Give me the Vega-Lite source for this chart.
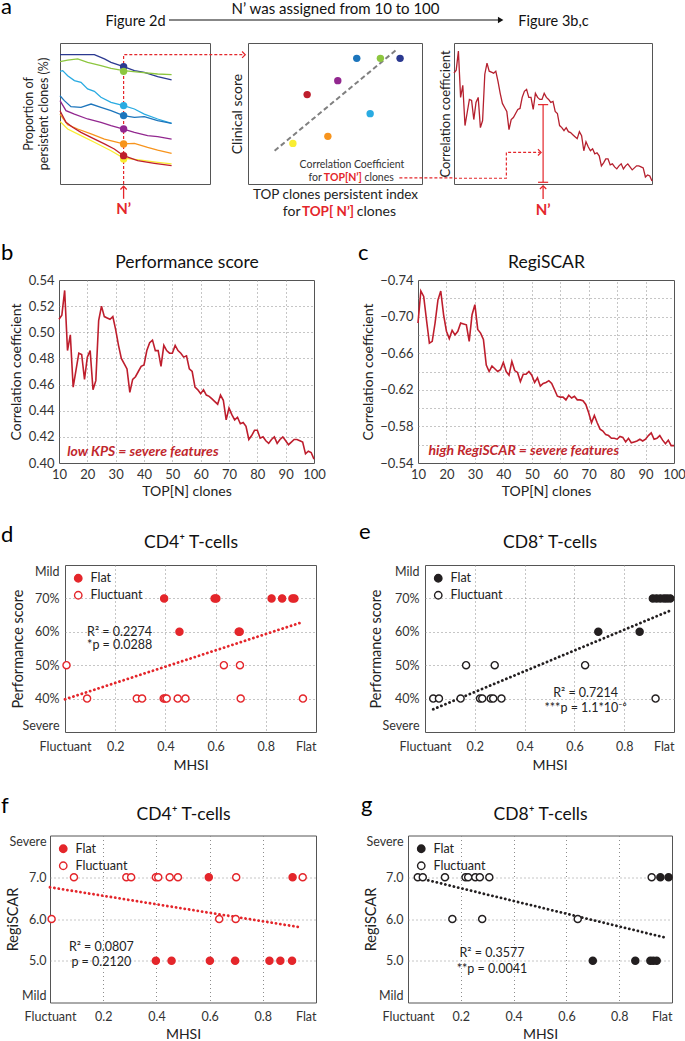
{
"$schema": "https://vega.github.io/schema/vega-lite/v6.json",
"background": "white",
"padding": {"left": 0, "top": -5, "right": 0, "bottom": 0},
"columns": 1,
"spacing": 21,
"resolve": {"scale": {"color": "independent", "fill": "independent"}, "legend": {"color": "independent", "fill": "independent"}},
"config": {
  "font": "Lato",
  "view": {"stroke": "#555555", "strokeWidth": 1},
  "axis": {"domain": false, "ticks": false, "grid": true, "gridColor": "#8c8c8c", "gridDash": [1, 3], "gridWidth": 1, "labelFont": "Lato", "labelFontSize": 12.5, "labelColor": "#333333", "labelPadding": 5, "labelOverlap": false, "labelFlush": false, "titleFont": "Lato", "titleFontSize": 14, "titleFontWeight": "normal", "titleColor": "#222222"},
  "title": {"font": "Lato", "fontWeight": "normal", "color": "#000000", "baseline": "alphabetic", "anchor": "start", "frame": "group", "fontSize": 22},
  "legend": {"labelFont": "Lato"},
  "text": {"font": "Lato"}
},
"datasets": {
  "perf": [{"n":10,"r":0.510},{"n":11,"r":0.513},{"n":12,"r":0.532},{"n":13,"r":0.486},{"n":14,"r":0.498},{"n":15,"r":0.458},{"n":16,"r":0.471},{"n":17,"r":0.484},{"n":18,"r":0.483},{"n":19,"r":0.464},{"n":20,"r":0.481},{"n":21,"r":0.486},{"n":22,"r":0.456},{"n":23,"r":0.463},{"n":24,"r":0.509},{"n":25,"r":0.520},{"n":26,"r":0.512},{"n":27,"r":0.511},{"n":28,"r":0.510},{"n":29,"r":0.512},{"n":30,"r":0.502},{"n":31,"r":0.490},{"n":32,"r":0.480},{"n":33,"r":0.476},{"n":34,"r":0.472},{"n":35,"r":0.454},{"n":36,"r":0.464},{"n":37,"r":0.466},{"n":38,"r":0.470},{"n":39,"r":0.474},{"n":40,"r":0.475},{"n":41,"r":0.486},{"n":42,"r":0.492},{"n":43,"r":0.494},{"n":44,"r":0.486},{"n":45,"r":0.486},{"n":46,"r":0.474},{"n":47,"r":0.490},{"n":48,"r":0.486},{"n":49,"r":0.484},{"n":50,"r":0.484},{"n":51,"r":0.490},{"n":52,"r":0.486},{"n":53,"r":0.484},{"n":54,"r":0.481},{"n":55,"r":0.482},{"n":56,"r":0.472},{"n":57,"r":0.470},{"n":58,"r":0.458},{"n":59,"r":0.456},{"n":60,"r":0.453},{"n":61,"r":0.456},{"n":62,"r":0.452},{"n":63,"r":0.451},{"n":64,"r":0.449},{"n":65,"r":0.447},{"n":66,"r":0.445},{"n":67,"r":0.452},{"n":68,"r":0.448},{"n":69,"r":0.433},{"n":70,"r":0.442},{"n":71,"r":0.437},{"n":72,"r":0.433},{"n":73,"r":0.435},{"n":74,"r":0.430},{"n":75,"r":0.431},{"n":76,"r":0.428},{"n":77,"r":0.418},{"n":78,"r":0.421},{"n":79,"r":0.425},{"n":80,"r":0.425},{"n":81,"r":0.419},{"n":82,"r":0.420},{"n":83,"r":0.417},{"n":84,"r":0.415},{"n":85,"r":0.418},{"n":86,"r":0.420},{"n":87,"r":0.415},{"n":88,"r":0.418},{"n":89,"r":0.420},{"n":90,"r":0.417},{"n":91,"r":0.414},{"n":92,"r":0.416},{"n":93,"r":0.418},{"n":94,"r":0.418},{"n":95,"r":0.417},{"n":96,"r":0.416},{"n":97,"r":0.407},{"n":98,"r":0.409},{"n":99,"r":0.408},{"n":100,"r":0.403}],
  "regi": [{"n":10,"r":-0.693},{"n":11,"r":-0.728},{"n":12,"r":-0.722},{"n":13,"r":-0.696},{"n":14,"r":-0.671},{"n":15,"r":-0.673},{"n":16,"r":-0.693},{"n":17,"r":-0.718},{"n":18,"r":-0.728},{"n":19,"r":-0.702},{"n":20,"r":-0.684},{"n":21,"r":-0.676},{"n":22,"r":-0.685},{"n":23,"r":-0.680},{"n":24,"r":-0.684},{"n":25,"r":-0.693},{"n":26,"r":-0.692},{"n":27,"r":-0.691},{"n":28,"r":-0.673},{"n":29,"r":-0.702},{"n":30,"r":-0.713},{"n":31,"r":-0.686},{"n":32,"r":-0.682},{"n":33,"r":-0.675},{"n":34,"r":-0.647},{"n":35,"r":-0.640},{"n":36,"r":-0.646},{"n":37,"r":-0.643},{"n":38,"r":-0.640},{"n":39,"r":-0.642},{"n":40,"r":-0.650},{"n":41,"r":-0.640},{"n":42,"r":-0.636},{"n":43,"r":-0.651},{"n":44,"r":-0.641},{"n":45,"r":-0.639},{"n":46,"r":-0.629},{"n":47,"r":-0.637},{"n":48,"r":-0.637},{"n":49,"r":-0.640},{"n":50,"r":-0.636},{"n":51,"r":-0.628},{"n":52,"r":-0.633},{"n":53,"r":-0.624},{"n":54,"r":-0.627},{"n":55,"r":-0.628},{"n":56,"r":-0.630},{"n":57,"r":-0.627},{"n":58,"r":-0.620},{"n":59,"r":-0.613},{"n":60,"r":-0.612},{"n":61,"r":-0.612},{"n":62,"r":-0.609},{"n":63,"r":-0.614},{"n":64,"r":-0.611},{"n":65,"r":-0.613},{"n":66,"r":-0.609},{"n":67,"r":-0.609},{"n":68,"r":-0.608},{"n":69,"r":-0.604},{"n":70,"r":-0.595},{"n":71,"r":-0.584},{"n":72,"r":-0.592},{"n":73,"r":-0.584},{"n":74,"r":-0.577},{"n":75,"r":-0.575},{"n":76,"r":-0.571},{"n":77,"r":-0.570},{"n":78,"r":-0.567},{"n":79,"r":-0.567},{"n":80,"r":-0.566},{"n":81,"r":-0.569},{"n":82,"r":-0.568},{"n":83,"r":-0.563},{"n":84,"r":-0.567},{"n":85,"r":-0.562},{"n":86,"r":-0.563},{"n":87,"r":-0.564},{"n":88,"r":-0.566},{"n":89,"r":-0.564},{"n":90,"r":-0.566},{"n":91,"r":-0.570},{"n":92,"r":-0.573},{"n":93,"r":-0.566},{"n":94,"r":-0.567},{"n":95,"r":-0.570},{"n":96,"r":-0.565},{"n":97,"r":-0.561},{"n":98,"r":-0.565},{"n":99,"r":-0.559},{"n":100,"r":-0.559}],
  "aLines": [
    {"s":"A","x":0,"y":91.7},{"s":"A","x":22.9,"y":91.7},{"s":"A","x":29.6,"y":88.7},{"s":"A","x":34,"y":86.3},{"s":"A","x":42.4,"y":83.2},{"s":"A","x":49.6,"y":80.4},{"s":"A","x":56.2,"y":79.2},{"s":"A","x":65.1,"y":76.1},{"s":"A","x":74.4,"y":73.8},
    {"s":"B","x":0,"y":86.8},{"s":"B","x":5.1,"y":87.9},{"s":"B","x":11.8,"y":88.7},{"s":"B","x":18.4,"y":86.3},{"s":"B","x":27.3,"y":83.9},{"s":"B","x":34,"y":82},{"s":"B","x":42.4,"y":80.4},{"s":"B","x":54,"y":79.2},{"s":"B","x":65.1,"y":78},{"s":"B","x":74.4,"y":77.5},
    {"s":"C","x":0,"y":79.9},{"s":"C","x":1.8,"y":80.4},{"s":"C","x":5.1,"y":76.8},{"s":"C","x":9.6,"y":73.3},{"s":"C","x":14,"y":72.1},{"s":"C","x":18.4,"y":67.4},{"s":"C","x":22.9,"y":65.7},{"s":"C","x":27.3,"y":61.5},{"s":"C","x":34,"y":57.9},{"s":"C","x":42.4,"y":55.6},{"s":"C","x":49.6,"y":53.2},{"s":"C","x":56.2,"y":49.6},{"s":"C","x":65.1,"y":46.1},{"s":"C","x":74.4,"y":43},
    {"s":"D","x":0,"y":62.6},{"s":"D","x":2.9,"y":59.1},{"s":"D","x":7.3,"y":54.8},{"s":"D","x":14,"y":54.4},{"s":"D","x":20.7,"y":56.7},{"s":"D","x":27.3,"y":54.4},{"s":"D","x":34,"y":52},{"s":"D","x":42.4,"y":48.5},{"s":"D","x":49.6,"y":47.3},{"s":"D","x":56.2,"y":47.8},{"s":"D","x":65.1,"y":44.9},{"s":"D","x":74.4,"y":43},
    {"s":"E","x":0,"y":59.1},{"s":"E","x":4,"y":52},{"s":"E","x":9.6,"y":49.6},{"s":"E","x":18.4,"y":46.1},{"s":"E","x":27.3,"y":43.7},{"s":"E","x":34,"y":41.4},{"s":"E","x":42.4,"y":39},{"s":"E","x":49.6,"y":36.6},{"s":"E","x":58.4,"y":34.3},{"s":"E","x":65.1,"y":33.6},{"s":"E","x":74.4,"y":31.9},
    {"s":"F","x":0,"y":49.6},{"s":"F","x":5.1,"y":42.1},{"s":"F","x":11.8,"y":39},{"s":"F","x":20.7,"y":35.5},{"s":"F","x":29.6,"y":31.9},{"s":"F","x":42.4,"y":28.4},{"s":"F","x":49.6,"y":28.8},{"s":"F","x":58.4,"y":26},{"s":"F","x":65.1,"y":24.1},{"s":"F","x":74.4,"y":21.7},
    {"s":"H","x":0,"y":44.4},{"s":"H","x":5.1,"y":39},{"s":"H","x":14,"y":34.3},{"s":"H","x":22.9,"y":29.6},{"s":"H","x":34,"y":23.6},{"s":"H","x":42.4,"y":18.4},{"s":"H","x":54,"y":17},{"s":"H","x":65.1,"y":15.4},{"s":"H","x":74.4,"y":14.2},
    {"s":"G","x":0,"y":52},{"s":"G","x":4,"y":43.7},{"s":"G","x":8.4,"y":40.2},{"s":"G","x":14,"y":36.6},{"s":"G","x":20.7,"y":33.1},{"s":"G","x":29.6,"y":28.4},{"s":"G","x":36.2,"y":24.8},{"s":"G","x":42.4,"y":20.1},{"s":"G","x":51.8,"y":16.5},{"s":"G","x":62.9,"y":14.7},{"s":"G","x":74.4,"y":13}
  ],
  "aDots": [{"s":"A","x":42.4,"y":83.2},{"s":"B","x":42.4,"y":79.9},{"s":"C","x":42.4,"y":55.6},{"s":"D","x":42.4,"y":48.5},{"s":"E","x":42.4,"y":39},{"s":"F","x":42.4,"y":28.4},{"s":"H","x":42.4,"y":17.7},{"s":"G","x":42.4,"y":20.1}],
  "aMid": [{"s":"A","x":0.874,"y":0.891},{"s":"B","x":0.761,"y":0.891},{"s":"C","x":0.702,"y":0.499},{"s":"D","x":0.625,"y":0.891},{"s":"E","x":0.516,"y":0.733},{"s":"F","x":0.459,"y":0.338},{"s":"G","x":0.340,"y":0.634},{"s":"H","x":0.258,"y":0.288}],
  "d_pts": [{"mhsi":0.395,"score":70,"type":"Flat"},{"mhsi":0.596,"score":70,"type":"Flat"},{"mhsi":0.603,"score":70,"type":"Flat"},{"mhsi":0.823,"score":70,"type":"Flat"},{"mhsi":0.865,"score":70,"type":"Flat"},{"mhsi":0.906,"score":70,"type":"Flat"},{"mhsi":0.914,"score":70,"type":"Flat"},{"mhsi":0.456,"score":60,"type":"Flat"},{"mhsi":0.692,"score":60,"type":"Flat"},{"mhsi":0.696,"score":60,"type":"Flat"},
    {"mhsi":0.006,"score":50,"type":"Fluctuant"},{"mhsi":0.633,"score":50,"type":"Fluctuant"},{"mhsi":0.697,"score":50,"type":"Fluctuant"},{"mhsi":0.088,"score":40,"type":"Fluctuant"},{"mhsi":0.286,"score":40,"type":"Fluctuant"},{"mhsi":0.307,"score":40,"type":"Fluctuant"},{"mhsi":0.393,"score":40,"type":"Fluctuant"},{"mhsi":0.399,"score":40,"type":"Fluctuant"},{"mhsi":0.405,"score":40,"type":"Fluctuant"},{"mhsi":0.449,"score":40,"type":"Fluctuant"},{"mhsi":0.48,"score":40,"type":"Fluctuant"},{"mhsi":0.7,"score":40,"type":"Fluctuant"},{"mhsi":0.948,"score":40,"type":"Fluctuant"}],
  "d_fit": [{"mhsi":0,"score":39.8},{"mhsi":0.946,"score":62.9}],
  "d_txt": [{"mhsi":0.088,"score":60,"label":"R² = 0.2274"},{"mhsi":0.088,"score":55.9,"label":"*p = 0.0288"}],
  "e_pts": [{"mhsi":0.915,"score":70,"type":"Flat"},{"mhsi":0.93,"score":70,"type":"Flat"},{"mhsi":0.945,"score":70,"type":"Flat"},{"mhsi":0.96,"score":70,"type":"Flat"},{"mhsi":0.972,"score":70,"type":"Flat"},{"mhsi":0.985,"score":70,"type":"Flat"},{"mhsi":0.696,"score":60,"type":"Flat"},{"mhsi":0.862,"score":60,"type":"Flat"},
    {"mhsi":0.165,"score":50,"type":"Fluctuant"},{"mhsi":0.28,"score":50,"type":"Fluctuant"},{"mhsi":0.643,"score":50,"type":"Fluctuant"},{"mhsi":0.033,"score":40,"type":"Fluctuant"},{"mhsi":0.056,"score":40,"type":"Fluctuant"},{"mhsi":0.143,"score":40,"type":"Fluctuant"},{"mhsi":0.221,"score":40,"type":"Fluctuant"},{"mhsi":0.23,"score":40,"type":"Fluctuant"},{"mhsi":0.264,"score":40,"type":"Fluctuant"},{"mhsi":0.274,"score":40,"type":"Fluctuant"},{"mhsi":0.307,"score":40,"type":"Fluctuant"},{"mhsi":0.926,"score":40,"type":"Fluctuant"}],
  "e_fit": [{"mhsi":0.033,"score":36.8},{"mhsi":0.98,"score":66.2}],
  "e_txt": [{"mhsi":0.645,"score":41.6,"label":"R² = 0.7214"},{"mhsi":0.645,"score":37.1,"label":"***p = 1.1*10⁻⁶"}],
  "f_pts": [{"mhsi":0.597,"regi":7,"type":"Flat"},{"mhsi":0.912,"regi":7,"type":"Flat"},{"mhsi":0.398,"regi":5,"type":"Flat"},{"mhsi":0.457,"regi":5,"type":"Flat"},{"mhsi":0.601,"regi":5,"type":"Flat"},{"mhsi":0.696,"regi":5,"type":"Flat"},{"mhsi":0.825,"regi":5,"type":"Flat"},{"mhsi":0.866,"regi":5,"type":"Flat"},{"mhsi":0.91,"regi":5,"type":"Flat"},
    {"mhsi":0.09,"regi":7,"type":"Fluctuant"},{"mhsi":0.287,"regi":7,"type":"Fluctuant"},{"mhsi":0.305,"regi":7,"type":"Fluctuant"},{"mhsi":0.398,"regi":7,"type":"Fluctuant"},{"mhsi":0.407,"regi":7,"type":"Fluctuant"},{"mhsi":0.45,"regi":7,"type":"Fluctuant"},{"mhsi":0.481,"regi":7,"type":"Fluctuant"},{"mhsi":0.7,"regi":7,"type":"Fluctuant"},{"mhsi":0.95,"regi":7,"type":"Fluctuant"},{"mhsi":0.006,"regi":6,"type":"Fluctuant"},{"mhsi":0.636,"regi":6,"type":"Fluctuant"},{"mhsi":0.698,"regi":6,"type":"Fluctuant"}],
  "f_fit": [{"mhsi":0,"regi":6.76},{"mhsi":0.943,"regi":5.8}],
  "f_txt": [{"mhsi":0.193,"regi":5.34,"label":"R² = 0.0807"},{"mhsi":0.193,"regi":4.96,"label":"p = 0.2120"}],
  "g_pts": [{"mhsi":0.956,"regi":7,"type":"Flat"},{"mhsi":0.987,"regi":7,"type":"Flat"},{"mhsi":0.70,"regi":5,"type":"Flat"},{"mhsi":0.861,"regi":5,"type":"Flat"},{"mhsi":0.918,"regi":5,"type":"Flat"},{"mhsi":0.929,"regi":5,"type":"Flat"},{"mhsi":0.942,"regi":5,"type":"Flat"},
    {"mhsi":0.037,"regi":7,"type":"Fluctuant"},{"mhsi":0.056,"regi":7,"type":"Fluctuant"},{"mhsi":0.14,"regi":7,"type":"Fluctuant"},{"mhsi":0.218,"regi":7,"type":"Fluctuant"},{"mhsi":0.228,"regi":7,"type":"Fluctuant"},{"mhsi":0.255,"regi":7,"type":"Fluctuant"},{"mhsi":0.272,"regi":7,"type":"Fluctuant"},{"mhsi":0.308,"regi":7,"type":"Fluctuant"},{"mhsi":0.923,"regi":7,"type":"Fluctuant"},{"mhsi":0.168,"regi":6,"type":"Fluctuant"},{"mhsi":0.281,"regi":6,"type":"Fluctuant"},{"mhsi":0.643,"regi":6,"type":"Fluctuant"}],
  "g_fit": [{"mhsi":0.028,"regi":7.0},{"mhsi":0.971,"regi":5.56}],
  "g_txt": [{"mhsi":0.318,"regi":5.18,"label":"R² = 0.3577"},{"mhsi":0.318,"regi":4.8,"label":"**p = 0.0041"}]
},
"concat": [
 {"concat": [
  {"hconcat": [
    {"width": 10, "height": 10, "data": {"values": []}, "mark": "point", "view": {"stroke": null}},
    {"width": 150, "height": 141,
     "title": {"text": "a", "offset": -5.5, "dx": -59},
     "resolve": {"axis": {"x": "independent"}},
     "layer": [
      {"data": {"name": "aLines"}, "mark": {"type": "line", "strokeWidth": 1.3},
       "encoding": {"x": {"field": "x", "type": "quantitative", "scale": {"domain": [0, 100], "nice": false, "zero": false}, "axis": null},
         "y": {"field": "y", "type": "quantitative", "scale": {"domain": [0, 100], "nice": false, "zero": false}, "axis": {"title": ["Proportion of", "persistent clones (%)"], "labels": false, "grid": false, "titleFontSize": 12.5, "titlePadding": 10, "titleLineHeight": 15}},
         "color": {"field": "s", "type": "nominal", "scale": {"domain": ["A","B","C","D","E","F","H","G"], "range": ["#2b3990","#8dc63f","#29abe2","#1c75bc","#92278f","#f7941d","#f9ed32","#be1e2d"]}, "legend": null}}},
      {"data": {"values": [{"x": 42.4, "y": 0, "k": 1}, {"x": 42.4, "y": 91.7, "k": 2}, {"x": 122.5, "y": 91.7, "k": 3}]},
       "mark": {"type": "line", "color": "#e4262b", "strokeWidth": 1.2, "strokeDash": [3, 2]},
       "encoding": {"x": {"field": "x", "type": "quantitative", "axis": {"orient": "top", "title": "Figure 2d", "labels": false, "grid": false, "titleFontSize": 14.5, "titlePadding": 18, "titleBaseline": "alphabetic", "titleColor": "#111111"}}, "y": {"field": "y", "type": "quantitative"}, "order": {"field": "k", "type": "quantitative"}}},
      {"data": {"values": [{"x": 123.5, "y": 91.7}]},
       "mark": {"type": "point", "shape": "M-1,-1L0,0L-1,1", "filled": false, "color": "#e4262b", "strokeWidth": 1.2, "size": 40, "opacity": 1},
       "encoding": {"x": {"field": "x", "type": "quantitative", "axis": null}, "y": {"field": "y", "type": "quantitative"}}},
      {"data": {"name": "aDots"}, "mark": {"type": "point", "filled": true, "size": 55, "opacity": 1},
       "encoding": {"x": {"field": "x", "type": "quantitative", "axis": null}, "y": {"field": "y", "type": "quantitative"}, "color": {"field": "s", "type": "nominal"}}},
      {"data": {"values": [{"x": 42.4, "y": -1.6, "y2": -10.5}]}, "mark": {"type": "rule", "color": "#e4262b", "strokeWidth": 1.3},
       "encoding": {"x": {"field": "x", "type": "quantitative", "axis": null}, "y": {"field": "y", "type": "quantitative"}, "y2": {"field": "y2"}}},
      {"data": {"values": [{"x": 42.4, "y": -1.6}]},
       "mark": {"type": "point", "shape": "M-1,1L0,0L1,1", "filled": false, "color": "#e4262b", "strokeWidth": 1.3, "size": 40, "opacity": 1},
       "encoding": {"x": {"field": "x", "type": "quantitative", "axis": null}, "y": {"field": "y", "type": "quantitative"}}},
      {"data": {"values": [{"x": 42.4, "y": -18, "label": "N’"}]},
       "mark": {"type": "text", "fontSize": 15, "fontWeight": "bold", "color": "#e4262b", "align": "center", "baseline": "middle"},
       "encoding": {"x": {"field": "x", "type": "quantitative", "axis": null}, "y": {"field": "y", "type": "quantitative"}, "text": {"field": "label"}}}
     ]},
    {"width": 38, "height": 10, "data": {"values": []}, "mark": "point", "view": {"stroke": null}},
    {"width": 174, "height": 141,
     "resolve": {"axis": {"x": "independent"}},
     "layer": [
      {"data": {"values": [{"x": -0.454, "x2": 1.44, "y": 1.163}]}, "mark": {"type": "rule", "color": "#111111", "strokeWidth": 1.2},
       "encoding": {"x": {"field": "x", "type": "quantitative", "scale": {"domain": [0, 1], "nice": false, "zero": false}, "axis": {"title": "TOP clones persistent index", "labels": false, "grid": false, "titleFontSize": 13.5, "titlePadding": 3}},
         "x2": {"field": "x2"},
         "y": {"field": "y", "type": "quantitative", "scale": {"domain": [0, 1], "nice": false, "zero": false}, "axis": {"title": "Clinical score", "labels": false, "grid": false, "titleFontSize": 14, "titlePadding": 4}}}},
      {"data": {"values": [{"x": 1.452, "y": 1.163}]}, "mark": {"type": "point", "shape": "triangle-right", "filled": true, "color": "#111111", "size": 40, "opacity": 1},
       "encoding": {"x": {"field": "x", "type": "quantitative", "axis": {"orient": "top", "title": "N’ was assigned from 10 to 100", "labels": false, "grid": false, "titleFontSize": 15, "titlePadding": 29.5, "titleBaseline": "alphabetic", "titleColor": "#111111"}}, "y": {"field": "y", "type": "quantitative"}}},
      {"data": {"values": [{"x": 0.153, "y": 0.236}, {"x": 0.851, "y": 0.95}]}, "mark": {"type": "line", "color": "#808080", "strokeWidth": 2, "strokeDash": [5, 3]},
       "encoding": {"x": {"field": "x", "type": "quantitative", "axis": null}, "y": {"field": "y", "type": "quantitative"}}},
      {"data": {"name": "aMid"}, "mark": {"type": "point", "filled": true, "size": 55, "opacity": 1},
       "encoding": {"x": {"field": "x", "type": "quantitative", "axis": null}, "y": {"field": "y", "type": "quantitative"},
         "color": {"field": "s", "type": "nominal", "scale": {"domain": ["A","B","C","D","E","F","H","G"], "range": ["#2b3990","#8dc63f","#29abe2","#1c75bc","#92278f","#f7941d","#f9ed32","#be1e2d"]}, "legend": null}}},
      {"data": {"values": [{"x": 0.597, "y": 0.137, "label": "Correlation Coefficient"}]}, "mark": {"type": "text", "fontSize": 10.5, "color": "#333333", "align": "center", "baseline": "middle"},
       "encoding": {"x": {"field": "x", "type": "quantitative", "axis": null}, "y": {"field": "y", "type": "quantitative"}, "text": {"field": "label"}}},
      {"data": {"values": [{"x": 0.348, "y": 0.043, "label": "for"}, {"x": 0.669, "y": 0.043, "label": "clones"}]}, "mark": {"type": "text", "fontSize": 10.5, "color": "#333333", "align": "left", "baseline": "middle"},
       "encoding": {"x": {"field": "x", "type": "quantitative", "axis": null}, "y": {"field": "y", "type": "quantitative"}, "text": {"field": "label"}}},
      {"data": {"values": [{"x": 0.436, "y": 0.043, "label": "TOP[N’]"}]}, "mark": {"type": "text", "fontSize": 10.5, "fontWeight": "bold", "color": "#e4262b", "align": "left", "baseline": "middle"},
       "encoding": {"x": {"field": "x", "type": "quantitative", "axis": null}, "y": {"field": "y", "type": "quantitative"}, "text": {"field": "label"}}},
      {"data": {"values": [{"x": 0.87, "y": 0.043}, {"x": 1.184, "y": 0.043}]}, "mark": {"type": "line", "color": "#e4262b", "strokeWidth": 1.2, "strokeDash": [3, 2]},
       "encoding": {"x": {"field": "x", "type": "quantitative", "axis": null}, "y": {"field": "y", "type": "quantitative"}}},
      {"data": {"values": [{"x": 0.2, "y": -0.196, "label": "for"}, {"x": 0.625, "y": -0.196, "label": "clones"}]}, "mark": {"type": "text", "fontSize": 14, "color": "#222222", "align": "left", "baseline": "middle"},
       "encoding": {"x": {"field": "x", "type": "quantitative", "axis": null}, "y": {"field": "y", "type": "quantitative"}, "text": {"field": "label"}}},
      {"data": {"values": [{"x": 0.31, "y": -0.196, "label": "TOP[ N’]"}]}, "mark": {"type": "text", "fontSize": 13.5, "fontWeight": "bold", "color": "#e4262b", "align": "left", "baseline": "middle"},
       "encoding": {"x": {"field": "x", "type": "quantitative", "axis": null}, "y": {"field": "y", "type": "quantitative"}, "text": {"field": "label"}}}
     ]},
    {"width": 32, "height": 10, "data": {"values": []}, "mark": "point", "view": {"stroke": null}},
    {"width": 198, "height": 141,
     "resolve": {"axis": {"x": "independent"}},
     "layer": [
      {"data": {"name": "perf"}, "mark": {"type": "line", "color": "#b5202e", "strokeWidth": 1.3},
       "encoding": {"x": {"field": "n", "type": "quantitative", "scale": {"domain": [10, 100], "nice": false, "zero": false}, "axis": null},
         "y": {"field": "r", "type": "quantitative", "scale": {"domain": [0.4, 0.54], "nice": false, "zero": false}, "axis": {"title": "Correlation coefficient", "labels": false, "grid": false, "titleFontSize": 13, "titlePadding": 2}}}},
      {"data": {"values": [{"n": 10, "r": 0.4057, "k": 1}, {"n": 33.8, "r": 0.4057, "k": 2}, {"n": 33.8, "r": 0.4314, "k": 3}, {"n": 49.0, "r": 0.4314, "k": 4}]},
       "mark": {"type": "line", "color": "#e4262b", "strokeWidth": 1.2, "strokeDash": [3, 2]},
       "encoding": {"x": {"field": "n", "type": "quantitative", "axis": {"orient": "top", "title": "Figure 3b,c", "labels": false, "grid": false, "titleFontSize": 14.5, "titlePadding": 18, "titleBaseline": "alphabetic", "titleColor": "#111111"}}, "y": {"field": "r", "type": "quantitative"}, "order": {"field": "k", "type": "quantitative"}}},
      {"data": {"values": [{"n": 49.6, "r": 0.4314}]},
       "mark": {"type": "point", "shape": "M-1,-1L0,0L-1,1", "filled": false, "color": "#e4262b", "strokeWidth": 1.2, "size": 40, "opacity": 1},
       "encoding": {"x": {"field": "n", "type": "quantitative", "axis": null}, "y": {"field": "r", "type": "quantitative"}}},
      {"data": {"values": [{"n": 50.5, "r": 0.4017, "r2": 0.4788}]}, "mark": {"type": "rule", "color": "#e4262b", "strokeWidth": 1.2},
       "encoding": {"x": {"field": "n", "type": "quantitative", "axis": null}, "y": {"field": "r", "type": "quantitative"}, "y2": {"field": "r2"}}},
      {"data": {"values": [{"n": 48.2, "n2": 52.8, "r": 0.4017}, {"n": 48.2, "n2": 52.8, "r": 0.4788}]}, "mark": {"type": "rule", "color": "#e4262b", "strokeWidth": 1.2},
       "encoding": {"x": {"field": "n", "type": "quantitative", "axis": null}, "x2": {"field": "n2"}, "y": {"field": "r", "type": "quantitative"}}},
      {"data": {"values": [{"n": 50.5, "r": 0.3982, "r2": 0.3852}]}, "mark": {"type": "rule", "color": "#e4262b", "strokeWidth": 1.3},
       "encoding": {"x": {"field": "n", "type": "quantitative", "axis": null}, "y": {"field": "r", "type": "quantitative"}, "y2": {"field": "r2"}}},
      {"data": {"values": [{"n": 50.5, "r": 0.3982}]},
       "mark": {"type": "point", "shape": "M-1,1L0,0L1,1", "filled": false, "color": "#e4262b", "strokeWidth": 1.3, "size": 40, "opacity": 1},
       "encoding": {"x": {"field": "n", "type": "quantitative", "axis": null}, "y": {"field": "r", "type": "quantitative"}}},
      {"data": {"values": [{"n": 50.5, "r": 0.3746, "label": "N’"}]},
       "mark": {"type": "text", "fontSize": 15, "fontWeight": "bold", "color": "#e4262b", "align": "center", "baseline": "middle"},
       "encoding": {"x": {"field": "n", "type": "quantitative", "axis": null}, "y": {"field": "r", "type": "quantitative"}, "text": {"field": "label"}}}
     ]}
   ],
   "spacing": 0, "bounds": "flush",
   "resolve": {"scale": {"color": "independent", "fill": "independent"}, "legend": {"color": "independent", "fill": "independent"}}},
  {"hconcat": [
    {"width": 9, "height": 10, "data": {"values": []}, "mark": "point", "view": {"stroke": null}},
    {"width": 255, "height": 183,
     "title": {"text": "b", "offset": -11.3, "dx": -58},
     "resolve": {"axis": {"x": "independent"}},
     "layer": [
      {"data": {"name": "perf"}, "mark": {"type": "line", "color": "#be1e2d", "strokeWidth": 1.6},
       "encoding": {"x": {"field": "n", "type": "quantitative", "scale": {"domain": [10, 100], "nice": false, "zero": false},
           "axis": {"values": [10,20,30,40,50,60,70,80,90,100], "tickCount": 30, "title": "TOP[N] clones", "labelFontSize": 13, "labelPadding": 5, "titlePadding": 3, "gridOpacity": {"condition": {"test": "datum.value == 10 || datum.value == 100", "value": 0}, "value": 1}}},
         "y": {"field": "r", "type": "quantitative", "scale": {"domain": [0.4, 0.54], "nice": false, "zero": false},
           "axis": {"values": [0.4,0.42,0.44,0.46,0.48,0.5,0.52,0.54], "tickCount": 30, "format": ".2f", "title": "Correlation coefficient", "labelFontSize": 13, "labelPadding": 5, "titlePadding": 5, "gridOpacity": {"condition": {"test": "datum.value < 0.405 || datum.value > 0.535", "value": 0}, "value": 1}}}}},
      {"data": {"values": [{"n": 12.9, "r": 0.4084, "label": "low KPS = severe features"}]},
       "mark": {"type": "text", "align": "left", "baseline": "middle", "fontSize": 14, "fontWeight": "bold", "fontStyle": "italic", "color": "#c1272d"},
       "encoding": {"x": {"field": "n", "type": "quantitative", "axis": {"orient": "top", "title": "Performance score", "labels": false, "grid": false, "titleFontSize": 17.5, "titlePadding": 12.5, "titleBaseline": "alphabetic", "titleColor": "#111111"}}, "y": {"field": "r", "type": "quantitative"}, "text": {"field": "label"}}}
     ]},
    {"width": 104, "height": 10, "data": {"values": []}, "mark": "point", "view": {"stroke": null}},
    {"width": 256, "height": 183,
     "title": {"text": "c", "offset": -11.3, "dx": -60},
     "resolve": {"axis": {"x": "independent"}},
     "layer": [
      {"data": {"name": "regi"}, "mark": {"type": "line", "color": "#be1e2d", "strokeWidth": 1.6},
       "encoding": {"x": {"field": "n", "type": "quantitative", "scale": {"domain": [10, 100], "nice": false, "zero": false},
           "axis": {"values": [10,20,30,40,50,60,70,80,90,100], "tickCount": 30, "title": "TOP[N] clones", "labelFontSize": 13, "labelPadding": 5, "titlePadding": 3, "gridOpacity": {"condition": {"test": "datum.value == 10 || datum.value == 100", "value": 0}, "value": 1}}},
         "y": {"field": "r", "type": "quantitative", "scale": {"domain": [-0.74, -0.54], "reverse": true, "nice": false, "zero": false},
           "axis": {"values": [-0.74,-0.72,-0.7,-0.68,-0.66,-0.64,-0.62,-0.6,-0.58,-0.56,-0.54], "tickCount": 30, "labelExpr": "abs(round(datum.value*100)) % 4 == 2 ? format(datum.value, '.2f') : ''", "title": "Correlation coefficient", "labelFontSize": 13, "labelPadding": 5, "titlePadding": 4, "gridOpacity": {"condition": {"test": "datum.value < -0.735 || datum.value > -0.545", "value": 0}, "value": 1}}}}},
      {"data": {"values": [{"n": 13.7, "r": -0.5527, "label": "high RegiSCAR = severe features"}]},
       "mark": {"type": "text", "align": "left", "baseline": "middle", "fontSize": 14, "fontWeight": "bold", "fontStyle": "italic", "color": "#c1272d"},
       "encoding": {"x": {"field": "n", "type": "quantitative", "axis": {"orient": "top", "title": "RegiSCAR", "labels": false, "grid": false, "titleFontSize": 17.5, "titlePadding": 12.5, "titleBaseline": "alphabetic", "titleColor": "#111111"}}, "y": {"field": "r", "type": "quantitative"}, "text": {"field": "label"}}}
     ]}
   ],
   "spacing": 0, "bounds": "flush",
   "resolve": {"scale": {"color": "independent", "fill": "independent"}, "legend": {"color": "independent", "fill": "independent"}}}
 ],
 "columns": 1, "spacing": 21,
 "resolve": {"scale": {"color": "independent", "fill": "independent"}, "legend": {"color": "independent", "fill": "independent"}}},
 {"concat": [
  {"hconcat": [
    {"width": 15, "height": 10, "data": {"values": []}, "mark": "point", "view": {"stroke": null}},
    {"width": 251, "height": 167,
     "title": {"text": "d", "offset": -13.3, "dx": -64},
     "resolve": {"axis": {"x": "independent"}},
     "layer": [
      {"data": {"name": "d_fit"}, "mark": {"type": "line", "color": "#e4262b", "strokeWidth": 2.8, "strokeDash": [0.1, 4.3], "strokeCap": "round"},
       "encoding": {"x": {"field": "mhsi", "type": "quantitative", "scale": {"domain": [0, 1], "nice": false, "zero": false},
           "axis": {"values": [0,0.2,0.4,0.6,0.8,1], "tickCount": 30, "labelExpr": "datum.value == 0 ? 'Fluctuant' : datum.value == 1 ? 'Flat' : format(datum.value, '.1f')", "labelAlign": {"condition": {"test": "datum.value == 1", "value": "right"}, "value": "center"}, "gridOpacity": {"condition": {"test": "datum.value == 0 || datum.value == 1", "value": 0}, "value": 1}, "title": "MHSI", "labelPadding": 8, "titlePadding": 6}},
         "y": {"field": "score", "type": "quantitative", "scale": {"domain": [30, 80], "nice": false, "zero": false},
           "axis": {"values": [30,40,50,60,70,80], "tickCount": 30, "labelExpr": "datum.value == 30 ? 'Severe' : datum.value == 80 ? 'Mild' : datum.value + '%'", "labelFlush": true, "gridOpacity": {"condition": {"test": "datum.value == 30 || datum.value == 80", "value": 0}, "value": 1}, "title": "Performance score", "titleFontSize": 14.5, "labelPadding": 6, "titlePadding": -3}}}},
      {"data": {"name": "d_pts"}, "mark": {"type": "point", "filled": true, "size": 50, "stroke": "#e4262b", "strokeWidth": 1.4, "opacity": 1},
       "encoding": {"x": {"field": "mhsi", "type": "quantitative", "axis": null}, "y": {"field": "score", "type": "quantitative"},
         "fill": {"field": "type", "type": "nominal", "scale": {"domain": ["Flat", "Fluctuant"], "range": ["#e4262b", "#ffffff"]},
           "legend": {"title": null, "orient": "top-left", "offset": 7, "padding": 0, "labelFontSize": 12.5, "labelColor": "#222222", "symbolSize": 55, "symbolStrokeColor": "#e4262b", "symbolStrokeWidth": 1.4, "rowPadding": 3, "labelOffset": 6, "symbolType": "circle"}}}},
      {"data": {"name": "d_txt"}, "mark": {"type": "text", "align": "left", "baseline": "middle", "fontSize": 12.5, "color": "#222222"},
       "encoding": {"x": {"field": "mhsi", "type": "quantitative", "axis": {"orient": "top", "title": "CD4⁺ T-cells", "labels": false, "grid": false, "titleFontSize": 17.5, "titlePadding": 17.5, "titleBaseline": "alphabetic", "titleColor": "#111111"}}, "y": {"field": "score", "type": "quantitative"}, "text": {"field": "label"}}}
     ]},
    {"width": 109, "height": 10, "data": {"values": []}, "mark": "point", "view": {"stroke": null}},
    {"width": 249, "height": 167,
     "title": {"text": "e", "offset": -10.3, "dx": -66},
     "resolve": {"axis": {"x": "independent"}},
     "layer": [
      {"data": {"name": "e_fit"}, "mark": {"type": "line", "color": "#231f20", "strokeWidth": 2.8, "strokeDash": [0.1, 4.3], "strokeCap": "round"},
       "encoding": {"x": {"field": "mhsi", "type": "quantitative", "scale": {"domain": [0, 1], "nice": false, "zero": false},
           "axis": {"values": [0,0.2,0.4,0.6,0.8,1], "tickCount": 30, "labelExpr": "datum.value == 0 ? 'Fluctuant' : datum.value == 1 ? 'Flat' : format(datum.value, '.1f')", "labelAlign": {"condition": {"test": "datum.value == 1", "value": "right"}, "value": "center"}, "gridOpacity": {"condition": {"test": "datum.value == 0 || datum.value == 1", "value": 0}, "value": 1}, "title": "MHSI", "labelPadding": 8, "titlePadding": 6}},
         "y": {"field": "score", "type": "quantitative", "scale": {"domain": [30, 80], "nice": false, "zero": false},
           "axis": {"values": [30,40,50,60,70,80], "tickCount": 30, "labelExpr": "datum.value == 30 ? 'Severe' : datum.value == 80 ? 'Mild' : datum.value + '%'", "labelFlush": true, "gridOpacity": {"condition": {"test": "datum.value == 30 || datum.value == 80", "value": 0}, "value": 1}, "title": "Performance score", "titleFontSize": 14.5, "labelPadding": 6, "titlePadding": -1}}}},
      {"data": {"name": "e_pts"}, "mark": {"type": "point", "filled": true, "size": 50, "stroke": "#231f20", "strokeWidth": 1.4, "opacity": 1},
       "encoding": {"x": {"field": "mhsi", "type": "quantitative", "axis": null}, "y": {"field": "score", "type": "quantitative"},
         "fill": {"field": "type", "type": "nominal", "scale": {"domain": ["Flat", "Fluctuant"], "range": ["#231f20", "#ffffff"]},
           "legend": {"title": null, "orient": "top-left", "offset": 7, "padding": 0, "labelFontSize": 12.5, "labelColor": "#222222", "symbolSize": 55, "symbolStrokeColor": "#231f20", "symbolStrokeWidth": 1.4, "rowPadding": 3, "labelOffset": 6, "symbolType": "circle"}}}},
      {"data": {"name": "e_txt"}, "mark": {"type": "text", "align": "center", "baseline": "middle", "fontSize": 12.5, "color": "#222222"},
       "encoding": {"x": {"field": "mhsi", "type": "quantitative", "axis": {"orient": "top", "title": "CD8⁺ T-cells", "labels": false, "grid": false, "titleFontSize": 17.5, "titlePadding": 17.5, "titleBaseline": "alphabetic", "titleColor": "#111111"}}, "y": {"field": "score", "type": "quantitative"}, "text": {"field": "label"}}}
     ]}
   ],
   "spacing": 0, "bounds": "flush",
   "resolve": {"scale": {"color": "independent", "fill": "independent"}, "legend": {"color": "independent", "fill": "independent"}}},
  {"hconcat": [
    {"width": 266, "height": 167,
     "title": {"text": "f", "offset": -13.3, "dx": -49},
     "resolve": {"axis": {"x": "independent"}},
     "layer": [
      {"data": {"name": "f_fit"}, "mark": {"type": "line", "color": "#e4262b", "strokeWidth": 2.8, "strokeDash": [0.1, 4.3], "strokeCap": "round"},
       "encoding": {"x": {"field": "mhsi", "type": "quantitative", "scale": {"domain": [0, 1], "nice": false, "zero": false},
           "axis": {"values": [0,0.2,0.4,0.6,0.8,1], "tickCount": 30, "labelExpr": "datum.value == 0 ? 'Fluctuant' : datum.value == 1 ? 'Flat' : format(datum.value, '.1f')", "labelAlign": {"condition": {"test": "datum.value == 1", "value": "right"}, "value": "center"}, "gridOpacity": {"condition": {"test": "datum.value == 0 || datum.value == 1", "value": 0}, "value": 1}, "title": "MHSI", "labelPadding": 8, "titlePadding": 4}},
         "y": {"field": "regi", "type": "quantitative", "scale": {"domain": [4, 8], "nice": false, "zero": false},
           "axis": {"values": [4,5,6,7,8], "tickCount": 30, "labelExpr": "datum.value == 4 ? 'Mild' : datum.value == 8 ? 'Severe' : format(datum.value, '.1f')", "labelFlush": true, "gridOpacity": {"condition": {"test": "datum.value == 4 || datum.value == 8", "value": 0}, "value": 1}, "title": "RegiSCAR", "titleFontSize": 14.5, "labelPadding": 4, "titlePadding": -11}}}},
      {"data": {"name": "f_pts"}, "mark": {"type": "point", "filled": true, "size": 50, "stroke": "#e4262b", "strokeWidth": 1.4, "opacity": 1},
       "encoding": {"x": {"field": "mhsi", "type": "quantitative", "axis": null}, "y": {"field": "regi", "type": "quantitative"},
         "fill": {"field": "type", "type": "nominal", "scale": {"domain": ["Flat", "Fluctuant"], "range": ["#e4262b", "#ffffff"]},
           "legend": {"title": null, "orient": "top-left", "offset": 7, "padding": 0, "labelFontSize": 12.5, "labelColor": "#222222", "symbolSize": 55, "symbolStrokeColor": "#e4262b", "symbolStrokeWidth": 1.4, "rowPadding": 3, "labelOffset": 6, "symbolType": "circle"}}}},
      {"data": {"name": "f_txt"}, "mark": {"type": "text", "align": "center", "baseline": "middle", "fontSize": 12.5, "color": "#222222"},
       "encoding": {"x": {"field": "mhsi", "type": "quantitative", "axis": {"orient": "top", "title": "CD4⁺ T-cells", "labels": false, "grid": false, "titleFontSize": 17.5, "titlePadding": 16.5, "titleBaseline": "alphabetic", "titleColor": "#111111"}}, "y": {"field": "regi", "type": "quantitative"}, "text": {"field": "label"}}}
     ]},
    {"width": 92, "height": 10, "data": {"values": []}, "mark": "point", "view": {"stroke": null}},
    {"width": 264, "height": 167,
     "title": {"text": "g", "offset": -12.3, "dx": -47},
     "resolve": {"axis": {"x": "independent"}},
     "layer": [
      {"data": {"name": "g_fit"}, "mark": {"type": "line", "color": "#231f20", "strokeWidth": 2.8, "strokeDash": [0.1, 4.3], "strokeCap": "round"},
       "encoding": {"x": {"field": "mhsi", "type": "quantitative", "scale": {"domain": [0, 1], "nice": false, "zero": false},
           "axis": {"values": [0,0.2,0.4,0.6,0.8,1], "tickCount": 30, "labelExpr": "datum.value == 0 ? 'Fluctuant' : datum.value == 1 ? 'Flat' : format(datum.value, '.1f')", "labelAlign": {"condition": {"test": "datum.value == 1", "value": "right"}, "value": "center"}, "gridOpacity": {"condition": {"test": "datum.value == 0 || datum.value == 1", "value": 0}, "value": 1}, "title": "MHSI", "labelPadding": 8, "titlePadding": 4}},
         "y": {"field": "regi", "type": "quantitative", "scale": {"domain": [4, 8], "nice": false, "zero": false},
           "axis": {"values": [4,5,6,7,8], "tickCount": 30, "labelExpr": "datum.value == 4 ? 'Mild' : datum.value == 8 ? 'Severe' : format(datum.value, '.1f')", "labelFlush": true, "gridOpacity": {"condition": {"test": "datum.value == 4 || datum.value == 8", "value": 0}, "value": 1}, "title": "RegiSCAR", "titleFontSize": 14.5, "labelPadding": 5, "titlePadding": -12}}}},
      {"data": {"name": "g_pts"}, "mark": {"type": "point", "filled": true, "size": 50, "stroke": "#231f20", "strokeWidth": 1.4, "opacity": 1},
       "encoding": {"x": {"field": "mhsi", "type": "quantitative", "axis": null}, "y": {"field": "regi", "type": "quantitative"},
         "fill": {"field": "type", "type": "nominal", "scale": {"domain": ["Flat", "Fluctuant"], "range": ["#231f20", "#ffffff"]},
           "legend": {"title": null, "orient": "top-left", "offset": 7, "padding": 0, "labelFontSize": 12.5, "labelColor": "#222222", "symbolSize": 55, "symbolStrokeColor": "#231f20", "symbolStrokeWidth": 1.4, "rowPadding": 3, "labelOffset": 6, "symbolType": "circle"}}}},
      {"data": {"name": "g_txt"}, "mark": {"type": "text", "align": "center", "baseline": "middle", "fontSize": 12.5, "color": "#222222"},
       "encoding": {"x": {"field": "mhsi", "type": "quantitative", "axis": {"orient": "top", "title": "CD8⁺ T-cells", "labels": false, "grid": false, "titleFontSize": 17.5, "titlePadding": 16.5, "titleBaseline": "alphabetic", "titleColor": "#111111"}}, "y": {"field": "regi", "type": "quantitative"}, "text": {"field": "label"}}}
     ]}
   ],
   "spacing": 0, "bounds": "flush",
   "resolve": {"scale": {"color": "independent", "fill": "independent"}, "legend": {"color": "independent", "fill": "independent"}}}
 ],
 "columns": 1, "spacing": 20.5,
 "resolve": {"scale": {"color": "independent", "fill": "independent"}, "legend": {"color": "independent", "fill": "independent"}}}
]
}
